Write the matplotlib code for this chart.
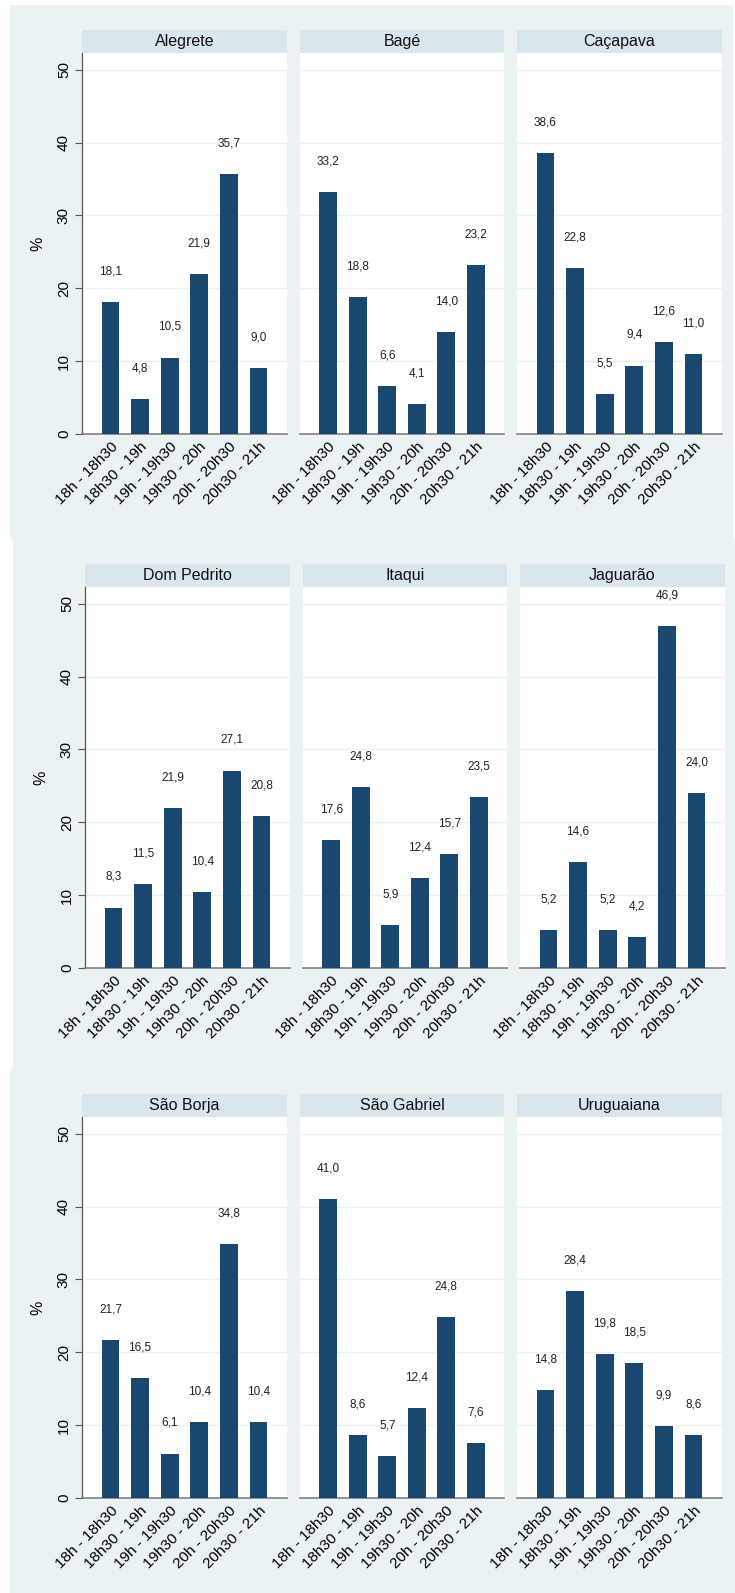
import numpy as np
import matplotlib.pyplot as plt
from matplotlib.patches import Rectangle

plt.rcParams['font.family'] = ['Liberation Sans', 'DejaVu Sans']

# categories (time slots) and per-city shares in %
slots = ["18h - 18h30", "18h30 - 19h", "19h - 19h30",
         "19h30 - 20h", "20h - 20h30", "20h30 - 21h"]

cities = [["Alegrete", "Bagé", "Caçapava"],
          ["Dom Pedrito", "Itaqui", "Jaguarão"],
          ["São Borja", "São Gabriel", "Uruguaiana"]]

alegrete = [18.1, 4.8, 10.5, 21.9, 35.7, 9.0]
bage = [33.2, 18.8, 6.6, 4.1, 14.0, 23.2]
cacapava = [38.6, 22.8, 5.5, 9.4, 12.6, 11.0]
dom_pedrito = [8.3, 11.5, 21.9, 10.4, 27.1, 20.8]
itaqui = [17.6, 24.8, 5.9, 12.4, 15.7, 23.5]
jaguarao = [5.2, 14.6, 5.2, 4.2, 46.9, 24.0]
sao_borja = [21.7, 16.5, 6.1, 10.4, 34.8, 10.4]
sao_gabriel = [41.0, 8.6, 5.7, 12.4, 24.8, 7.6]
uruguaiana = [14.8, 28.4, 19.8, 18.5, 9.9, 8.6]

values = [[alegrete, bage, cacapava],
          [dom_pedrito, itaqui, jaguarao],
          [sao_borja, sao_gabriel, uruguaiana]]

yticks = [0, 10, 20, 30, 40, 50]

W, H = 735, 1593
BG = "#EAF2F3"
STRIP = "#D9E6EB"
BAR = "#1A476F"

fig = plt.figure(figsize=(W / 100, H / 100), dpi=100)
fig.patch.set_facecolor("white")

# row blocks (each row is a separate Stata graph): x0, x1, top, bottom
rows = [(10, 733, 5, 539), (13, 735, 539, 1069), (10, 735, 1069, 1593)]
panel_x = [(82, 287), (300, 504), (517, 722)]
shift = [0, 3, 0]

for r, (bx0, bx1, btop, bbot) in enumerate(rows):
    fig.patches.append(Rectangle((bx0 / W, 1 - bbot / H), (bx1 - bx0) / W,
                                 (bbot - btop) / H, transform=fig.transFigure,
                                 facecolor=BG, edgecolor="none", zorder=-10))
    strip_top = btop + 25
    strip_h = 23
    plot_top = strip_top + strip_h
    plot_bot = btop + 429
    for c in range(3):
        px0, px1 = panel_x[c]
        px0 += shift[r]
        px1 += shift[r]
        ax = fig.add_axes([px0 / W, 1 - plot_bot / H, (px1 - px0) / W,
                           (plot_bot - plot_top) / H])
        ax.set_facecolor("white")
        x = np.arange(len(slots))
        vals = values[r][c]
        ax.bar(x, vals, width=0.6, color=BAR, zorder=3)
        for xi, v in zip(x, vals):
            ax.text(xi, v + 4.2, f"{v:.1f}".replace(".", ","), ha="center",
                    va="center", fontsize=8.5, color="#222222", zorder=4)
        ax.set_xlim(-0.96, 5.96)
        ax.set_ylim(0, 52.3)
        ax.set_yticks(yticks)
        for yv in yticks[1:]:
            ax.axhline(yv, color=BG, lw=1, zorder=1)
        ax.set_xticks(x)
        ax.set_xticklabels(slots, rotation=45, ha="right",
                           rotation_mode="anchor", fontsize=11)
        ax.tick_params(axis="x", length=0, pad=4)
        for s in ["top", "right"]:
            ax.spines[s].set_visible(False)
        ax.spines["bottom"].set_color("#808080")
        ax.spines["bottom"].set_linewidth(1.2)
        if c == 0:
            ax.spines["left"].set_color("#555555")
            ax.spines["left"].set_linewidth(0.9)
            ax.tick_params(axis="y", length=5, color="#555555", pad=3,
                           labelsize=11)
            for lab in ax.get_yticklabels():
                lab.set_rotation(90)
                lab.set_va("center")
            ax.set_ylabel("%", fontsize=11.5, labelpad=8)
        else:
            ax.spines["left"].set_visible(False)
            ax.tick_params(axis="y", left=False, labelleft=False)
        # title strip
        hrel = strip_h / (plot_bot - plot_top)
        ax.add_patch(Rectangle((0, 1), 1, hrel, transform=ax.transAxes,
                               facecolor=STRIP, edgecolor="none",
                               clip_on=False))
        ax.text(0.5, 1 + hrel / 2, cities[r][c], transform=ax.transAxes,
                ha="center", va="center", fontsize=11.5, color="#111111")

fig.savefig("out.png", dpi=100, facecolor="white")
